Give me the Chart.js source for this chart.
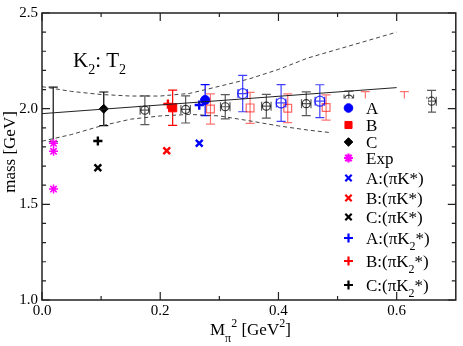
<!DOCTYPE html>
<html>
<head>
<meta charset="utf-8">
<script src="https://cdn.jsdelivr.net/npm/chart.js@4.4.1/dist/chart.umd.min.js"></script>
<style>
  html, body { margin: 0; padding: 0; background: #fff; }
  #wrap { width: 463px; height: 346px; }
</style>
</head>
<body>
<div id="wrap"><canvas id="massChart" width="463" height="346"></canvas></div>
<script>
// K2: T2 mass vs Mpi^2

// axis ticks
const xTicks = [0.0, 0.2, 0.4, 0.6];
const xMinorTicks = [0.1, 0.3, 0.5];
const yTicks = [1.0, 1.5, 2.0, 2.5];
const yMinorTicks = [1.1, 1.2, 1.3, 1.4, 1.6, 1.7, 1.8, 1.9, 2.1, 2.2, 2.3, 2.4];

// chiral fit line and error band
const fitX = [0.0, 0.6];
const fitY = [1.974, 2.110];
const bandUpX = [0.0, 0.05, 0.1, 0.15, 0.2, 0.25, 0.3, 0.35, 0.4, 0.45, 0.5, 0.55, 0.6];
const bandUpY = [2.115, 2.090, 2.074, 2.066, 2.066, 2.080, 2.117, 2.155, 2.205, 2.265, 2.310, 2.355, 2.400];
const bandLoX = [0.0, 0.05, 0.1, 0.15, 0.2, 0.25, 0.3, 0.35, 0.4, 0.45, 0.49];
const bandLoY = [1.830, 1.865, 1.910, 1.945, 1.962, 1.970, 1.962, 1.937, 1.910, 1.888, 1.874];

// extrapolated value at the physical point
const physX = [0.019];
const physY = [1.970];
const physErr = [0.143];

// filled points A, B, C
const aX = [0.276], aY = [2.045], aErr = [0.081];
const bX = [0.221], bY = [2.005], bErr = [0.092];
const cX = [0.1045], cY = [1.999], cErr = [0.088];

// open points
const openCX = [0.174, 0.243, 0.310, 0.3795, 0.447, 0.519, 0.659];
const openCY = [1.992, 1.996, 2.010, 2.013, 2.026, 2.050, 2.039];
const openCErr = [0.075, 0.071, 0.063, 0.062, 0.062, 0.042, 0.057];
const openAX = [0.3395, 0.4045, 0.470];
const openAY = [2.079, 2.030, 2.039];
const openAErr = [0.095, 0.096, 0.086];
const openBX = [0.285, 0.352, 0.4157, 0.4806, 0.547, 0.613];
const openBY = [1.998, 2.004, 2.002, 2.006, 2.007, 2.007];
const openBErr = [0.079, 0.081, 0.075, 0.066, 0.082, 0.082];
const openXErr = 0.008;

// experiment
const expX = [0.0195, 0.0195, 0.0195];
const expY = [1.819, 1.777, 1.580];

// two-particle levels
const piKX = [0.266, 0.211, 0.0945];      // A, B, C
const piKY = [1.819, 1.780, 1.691];
const piK2X = [0.266, 0.213, 0.0945];
const piK2Y = [2.019, 2.024, 1.831];

const serif = '"Liberation Serif", "DejaVu Serif", serif';
const BLUE = '#0000ff', RED = '#ff0000', MAGENTA = '#ff00ff', BLACK = '#000000';

function pts(xs, ys) {
    return xs.map((x, i) => ({ x: x, y: ys[i] }));
}

// error bars through the library scales
const errorBars = {
    id: 'errorBars',
    beforeDatasetsDraw(chart) {
        const ctx = chart.ctx;
        const xs = chart.scales.x, ys = chart.scales.y;
        ctx.save();
        chart.data.datasets.forEach(ds => {
            if (!ds.errY) return;
            ctx.strokeStyle = ds.errColor || ds.borderColor;
            ctx.lineWidth = 1.2;
            ds.data.forEach((p, i) => {
                const px = xs.getPixelForValue(p.x);
                const top = ys.getPixelForValue(p.y + ds.errY[i]);
                const bot = ys.getPixelForValue(p.y - ds.errY[i]);
                ctx.beginPath();
                ctx.moveTo(px, top); ctx.lineTo(px, bot);
                ctx.moveTo(px - 4.5, top); ctx.lineTo(px + 4.5, top);
                ctx.moveTo(px - 4.5, bot); ctx.lineTo(px + 4.5, bot);
                if (ds.errX) {
                    const py = ys.getPixelForValue(p.y);
                    const l = xs.getPixelForValue(p.x - ds.errX);
                    const r = xs.getPixelForValue(p.x + ds.errX);
                    ctx.moveTo(l, py); ctx.lineTo(r, py);
                    ctx.moveTo(l, py - 4.5); ctx.lineTo(l, py + 4.5);
                    ctx.moveTo(r, py - 4.5); ctx.lineTo(r, py + 4.5);
                }
                ctx.stroke();
            });
        });
        ctx.restore();
    }
};

function runs(ctx, x, y, parts) {
    parts.forEach(p => {
        ctx.font = p.s + 'px ' + serif;
        ctx.fillText(p.t, x, y + (p.dy || 0));
        x += ctx.measureText(p.t).width;
    });
    return x;
}

const legendItems = [
    { parts: [{ t: 'A' }], style: 'circle', color: BLUE, r: 4.3, fill: true },
    { parts: [{ t: 'B' }], style: 'rect', color: RED, r: 5, fill: true },
    { parts: [{ t: 'C' }], style: 'rectRot', color: BLACK, r: 4.3, fill: true },
    { parts: [{ t: 'Exp' }], style: 'star', color: MAGENTA, r: 4.5 },
    { parts: [{ t: 'A:(πK*)' }], style: 'crossRot', color: BLUE, r: 4.5 },
    { parts: [{ t: 'B:(πK*)' }], style: 'crossRot', color: RED, r: 4.5 },
    { parts: [{ t: 'C:(πK*)' }], style: 'crossRot', color: BLACK, r: 4.5 },
    { parts: [{ t: 'A:(πK' }, { t: '2', sub: true }, { t: '*)' }], style: 'cross', color: BLUE, r: 4.5 },
    { parts: [{ t: 'B:(πK' }, { t: '2', sub: true }, { t: '*)' }], style: 'cross', color: RED, r: 4.5 },
    { parts: [{ t: 'C:(πK' }, { t: '2', sub: true }, { t: '*)' }], style: 'cross', color: BLACK, r: 4.5 }
];
const legendRowY = [108, 125, 142, 158, 178, 198, 217, 238, 261, 285];

// white legend box over the plot, then frame, ticks and labels
const decorations = {
    id: 'decorations',
    afterDatasetsDraw(chart) {
        const ctx = chart.ctx;
        ctx.save();
        ctx.fillStyle = '#fff';
        ctx.fillRect(337, 98.5, 91, 200);
        legendItems.forEach((it, i) => {
            const y = legendRowY[i];
            ctx.fillStyle = it.color;
            ctx.strokeStyle = it.color;
            ctx.lineWidth = it.fill ? 1 : 2.2;
            Chart.helpers.drawPoint(ctx, { pointStyle: it.style, radius: it.r, rotation: 0, borderWidth: ctx.lineWidth }, 348.5, y);
            ctx.fillStyle = '#000';
            ctx.textBaseline = 'alphabetic';
            runs(ctx, 366, y + 6, it.parts.map(p => p.sub ? { t: p.t, s: 12, dy: 6 } : { t: p.t, s: 17 }));
        });
        ctx.restore();
    },
    afterDraw(chart) {
        const ctx = chart.ctx;
        const a = chart.chartArea;
        const xs = chart.scales.x, ys = chart.scales.y;
        ctx.save();
        ctx.strokeStyle = '#222';
        ctx.lineWidth = 1.5;
        ctx.strokeRect(a.left, a.top, a.right - a.left, a.bottom - a.top);
        ctx.lineWidth = 1.2;
        ctx.beginPath();
        const xt = (v, len) => {
            const px = xs.getPixelForValue(v);
            ctx.moveTo(px, a.bottom); ctx.lineTo(px, a.bottom - len);
            ctx.moveTo(px, a.top); ctx.lineTo(px, a.top + len);
        };
        const yt = (v, len) => {
            const py = ys.getPixelForValue(v);
            ctx.moveTo(a.left, py); ctx.lineTo(a.left + len, py);
            ctx.moveTo(a.right, py); ctx.lineTo(a.right - len, py);
        };
        xTicks.forEach(v => xt(v, 8));
        xMinorTicks.forEach(v => xt(v, 4));
        yTicks.forEach(v => yt(v, 8));
        yMinorTicks.forEach(v => yt(v, 4));
        ctx.stroke();

        ctx.fillStyle = '#000';
        ctx.textBaseline = 'alphabetic';
        // panel label
        runs(ctx, 73, 67, [{ t: 'K', s: 21 }, { t: '2', s: 14, dy: 7 }, { t: ': T', s: 21 }, { t: '2', s: 14, dy: 7 }]);
        // x title
        runs(ctx, 210, 335, [{ t: 'M', s: 17 }, { t: 'π', s: 12, dy: 7 }, { t: '2', s: 12, dy: -8 },
            { t: ' [GeV', s: 17 }, { t: '2', s: 12, dy: -8 }, { t: ']', s: 17 }]);
        // y title
        ctx.translate(11, 152);
        ctx.rotate(-Math.PI / 2);
        ctx.font = '17px ' + serif;
        ctx.textAlign = 'center';
        ctx.textBaseline = 'middle';
        ctx.fillText('mass [GeV]', 0, 0);
        ctx.restore();
    }
};

const lineDs = (xs, ys, dash) => ({
    data: pts(xs, ys), showLine: true, borderColor: dash ? '#444' : '#222', borderWidth: 1,
    borderDash: dash ? [4, 3] : [], pointRadius: 0, fill: false
});

new Chart(document.getElementById('massChart'), {
    type: 'scatter',
    data: {
        datasets: [
            lineDs(fitX, fitY, false),
            lineDs(bandUpX, bandUpY, true),
            lineDs(bandLoX, bandLoY, true),
            { data: pts(physX, physY), errY: physErr, errColor: '#111', pointRadius: 0 },
            { data: pts(openCX, openCY), errY: openCErr, errX: openXErr, errColor: 'rgba(0,0,0,0.65)',
              pointStyle: 'circle', pointRadius: 4, borderColor: 'rgba(0,0,0,0.75)', backgroundColor: 'rgba(0,0,0,0)', borderWidth: 1.2 },
            { data: pts(openAX, openAY), errY: openAErr, errX: openXErr, errColor: 'rgba(0,0,255,0.75)',
              pointStyle: 'circle', pointRadius: 5, borderColor: 'rgba(0,0,255,0.75)', backgroundColor: 'rgba(0,0,0,0)', borderWidth: 1.2 },
            { data: pts(openBX, openBY), errY: openBErr, errColor: 'rgba(255,0,0,0.55)',
              pointStyle: 'rect', pointRadius: 5.5, borderColor: 'rgba(255,0,0,0.6)', backgroundColor: 'rgba(0,0,0,0)', borderWidth: 1.2 },
            { data: pts(cX, cY), errY: cErr, errColor: BLACK, pointStyle: 'rectRot', pointRadius: 4.5,
              borderColor: BLACK, backgroundColor: BLACK, borderWidth: 1 },
            { data: pts(bX, bY), errY: bErr, errColor: RED, pointStyle: 'rect', pointRadius: 5.8,
              borderColor: RED, backgroundColor: RED, borderWidth: 1 },
            { data: pts(aX, aY), errY: aErr, errColor: BLUE, pointStyle: 'circle', pointRadius: 4.6,
              borderColor: BLUE, backgroundColor: BLUE, borderWidth: 1 },
            { data: pts(expX, expY), pointStyle: 'star', pointRadius: 4.5, borderColor: MAGENTA, borderWidth: 1.5 },
            { data: pts(piKX, piKY), pointStyle: 'crossRot', pointRadius: 4.8, borderWidth: 2.4,
              borderColor: [BLUE, RED, BLACK] },
            { data: pts(piK2X, piK2Y), pointStyle: 'cross', pointRadius: 4.6, borderWidth: 2.4,
              borderColor: [BLUE, RED, BLACK] }
        ]
    },
    options: {
        responsive: false,
        animation: false,
        devicePixelRatio: 1,
        events: [],
        layout: { padding: { top: 7, right: 2, left: 0, bottom: 0 } },
        plugins: { legend: { display: false }, tooltip: { enabled: false } },
        scales: {
            x: {
                type: 'linear', min: 0, max: 0.7,
                grid: { display: false, drawTicks: false },
                border: { display: false },
                afterBuildTicks: s => { s.ticks = xTicks.map(v => ({ value: v })); },
                afterFit: s => { s.height = 46; },
                ticks: { padding: 2, color: '#000', font: { family: serif, size: 15 }, callback: v => v.toFixed(1) }
            },
            y: {
                type: 'linear', min: 1.0, max: 2.5,
                grid: { display: false, drawTicks: false },
                border: { display: false },
                afterBuildTicks: s => { s.ticks = yTicks.map(v => ({ value: v })); },
                afterFit: s => { s.width = 42; },
                ticks: { padding: 4, color: '#000', font: { family: serif, size: 15 }, callback: v => v.toFixed(1) }
            }
        }
    },
    plugins: [errorBars, decorations]
});
</script>
</body>
</html>
